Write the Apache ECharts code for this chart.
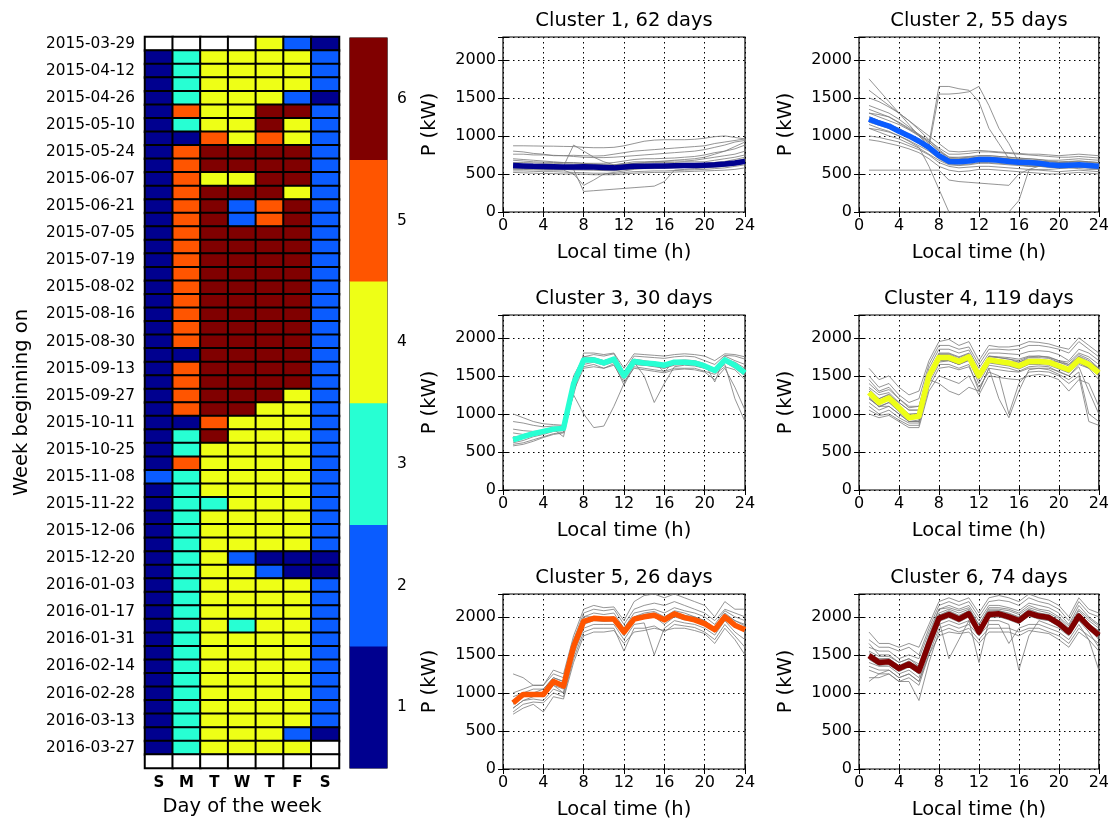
<!DOCTYPE html>
<html><head><meta charset="utf-8">
<script src="https://cdn.jsdelivr.net/npm/echarts/dist/echarts.min.js"></script>
<style>html,body{margin:0;padding:0;background:#fff}#c{width:1112px;height:822px}</style>
</head><body><div id="c"></div>
<script>
// ---------- categories ----------
const weeks = ['2015-03-29','2015-04-05','2015-04-12','2015-04-19','2015-04-26','2015-05-03','2015-05-10','2015-05-17','2015-05-24','2015-05-31',
'2015-06-07','2015-06-14','2015-06-21','2015-06-28','2015-07-05','2015-07-12','2015-07-19','2015-07-26','2015-08-02','2015-08-09',
'2015-08-16','2015-08-23','2015-08-30','2015-09-06','2015-09-13','2015-09-20','2015-09-27','2015-10-04','2015-10-11','2015-10-18',
'2015-10-25','2015-11-01','2015-11-08','2015-11-15','2015-11-22','2015-11-29','2015-12-06','2015-12-13','2015-12-20','2015-12-27',
'2016-01-03','2016-01-10','2016-01-17','2016-01-24','2016-01-31','2016-02-07','2016-02-14','2016-02-21','2016-02-28','2016-03-06',
'2016-03-13','2016-03-20','2016-03-27','2016-04-03'];
const days = ['Sun','Mon','Tue','Wed','Thu','Fri','Sat'];
const dayLabels = ['S','M','T','W','T','F','S'];
const clusterLevels = ['1','2','3','4','5','6'];
const clusterColors = ['#00008f','#0a5cff','#27ffd3','#eeff16','#ff5500','#800000'];
const hours = [1,2,3,4,5,6,7,8,9,10,11,12,13,14,15,16,17,18,19,20,21,22,23,24];
const panelTitles = ['Cluster 1, 62 days','Cluster 2, 55 days','Cluster 3, 30 days','Cluster 4, 119 days','Cluster 5, 26 days','Cluster 6, 74 days'];
const powerTicks = [0,500,1000,1500,2000];

// ---------- cluster of each day (rows = weeks, cols = S..S) ----------
const weekClusters = [
[null,null,null,null,4,2,1],
[1,3,4,4,4,4,2],[1,3,4,4,4,4,2],[1,3,4,4,4,4,2],[1,3,4,4,4,2,1],
[1,5,4,4,6,6,2],[1,3,4,4,6,4,2],[1,1,5,4,5,4,2],[1,5,6,6,6,6,2],[1,5,6,6,6,6,2],
[1,5,4,4,6,6,2],[1,5,6,6,6,4,2],[1,5,6,2,5,6,2],[1,5,6,2,5,6,2],[1,5,6,6,6,6,2],
[1,5,6,6,6,6,2],[1,5,6,6,6,6,2],[1,5,6,6,6,6,2],[1,5,6,6,6,6,2],[1,5,6,6,6,6,2],
[1,5,6,6,6,6,2],[1,5,6,6,6,6,2],[1,5,6,6,6,6,2],[1,1,6,6,6,6,2],[1,5,6,6,6,6,2],
[1,5,6,6,6,6,2],[1,5,6,6,6,4,2],[1,5,6,6,4,4,2],[1,1,5,4,4,4,2],[1,3,6,4,4,4,2],
[1,3,4,4,4,4,2],[1,5,4,4,4,4,2],[2,3,4,4,4,4,2],[1,3,4,4,4,4,2],[1,3,3,4,4,4,2],
[1,3,4,4,4,4,2],[1,3,4,4,4,4,2],[1,3,4,4,4,4,2],[1,3,4,2,1,1,1],[1,3,4,4,2,1,1],
[1,3,4,4,4,4,2],[1,3,4,4,4,4,2],[1,3,4,4,4,4,2],[1,3,4,3,4,4,2],[1,3,4,4,4,4,2],
[1,3,4,4,4,4,2],[1,3,4,4,4,4,2],[1,3,4,4,4,4,2],[1,3,4,4,4,4,2],[1,3,4,4,4,4,2],
[1,3,4,4,4,4,2],[1,3,4,4,4,2,1],[1,3,4,4,4,4,null],
[null,null,null,null,null,null,null]];

// ---------- cluster mean profiles (kW, hours 1..24) ----------
const mean1 = [610,605,600,598,595,592,590,595,590,585,580,590,600,602,605,605,608,610,612,615,620,630,645,665];
const mean2 = [1220,1170,1130,1060,1000,930,850,740,665,660,670,690,690,680,665,655,650,640,620,610,615,620,610,600];
const mean3 = [660,700,740,770,800,810,1400,1710,1710,1670,1720,1500,1690,1670,1660,1640,1680,1680,1670,1630,1570,1710,1640,1540];
const mean4 = [1280,1150,1210,1080,950,970,1500,1740,1740,1690,1750,1500,1710,1690,1670,1630,1690,1690,1680,1630,1580,1710,1650,1540];
const mean5 = [870,980,980,980,1150,1090,1610,1940,1980,1970,1970,1800,1970,2000,2020,1960,2040,1990,1960,1910,1830,2000,1890,1830];
const mean6 = [1490,1400,1410,1320,1380,1290,1650,1980,2030,1970,2040,1800,2030,2040,2000,1950,2050,2010,1990,1910,1800,2010,1870,1760];

// ---------- individual daily profiles (grey) ----------
const days1 = [
[870,870,868,866,865,862,860,850,845,845,850,870,900,930,945,950,950,950,955,970,990,1000,980,960],
[800,790,770,760,740,740,745,740,735,740,760,780,800,810,820,830,840,850,860,870,900,920,940,960],
[760,760,750,750,745,740,730,720,715,715,720,730,740,750,760,770,780,790,800,820,850,880,920,940],
[700,690,680,670,660,650,650,640,640,640,650,670,690,700,700,705,710,720,730,750,780,800,830,880],
[650,650,645,640,640,635,630,630,625,620,620,640,660,660,665,665,670,670,680,700,720,740,760,800],
[620,610,605,600,600,600,880,800,720,660,620,630,640,640,650,650,650,660,660,660,680,700,720,750],
[600,600,590,590,585,585,560,270,280,290,300,310,320,330,340,400,550,560,570,580,590,600,620,640],
[560,560,555,550,550,550,500,350,420,500,520,540,560,570,570,575,580,585,590,600,610,620,640,680],
[580,575,570,565,560,560,555,550,550,545,540,560,570,575,580,585,590,590,600,610,620,630,650,700],
[540,540,535,530,530,525,520,515,510,510,505,520,530,535,540,540,545,550,555,560,570,580,600,620],
[520,515,510,505,505,500,500,495,490,490,490,500,510,515,520,520,525,530,535,540,545,550,560,580],
[680,670,660,655,650,650,645,640,630,620,610,620,640,650,660,670,680,690,700,720,760,800,860,920],
[630,625,620,615,612,610,605,600,598,595,590,600,612,615,620,622,625,628,632,640,650,665,690,720],
[595,590,585,582,580,578,575,580,575,570,565,575,585,590,592,595,598,600,605,610,615,625,640,660],
[610,608,602,600,598,596,600,610,600,595,590,600,610,612,615,618,620,622,625,630,640,650,670,700],
[570,568,565,560,560,558,555,560,555,550,548,558,570,575,580,582,585,588,590,595,600,610,625,640]];
const days2 = [
[1750,1600,1450,1300,1150,1000,870,760,700,700,710,720,720,710,700,690,680,670,660,650,660,670,660,650],
[1500,1450,1380,1300,1200,1080,950,820,720,720,730,740,740,730,720,710,700,690,680,680,690,700,690,680],
[1400,1350,1300,1220,1120,1020,920,800,700,690,700,720,720,710,700,690,680,670,660,650,650,660,650,640],
[1300,1250,1200,1150,1080,1000,900,1650,1650,1620,1600,1450,1100,900,700,620,600,600,600,590,600,600,590,580],
[1250,1200,1150,1100,1020,950,850,1550,1550,1560,1580,1650,1400,1100,900,650,620,610,600,600,610,620,610,600],
[1200,1150,1100,1050,980,900,820,720,660,650,660,680,680,670,650,640,640,630,610,600,600,610,600,590],
[1100,1050,1000,960,900,840,760,680,620,610,620,640,640,630,620,610,600,600,590,580,580,590,580,570],
[1000,980,950,920,870,820,750,650,600,580,590,600,600,590,580,570,560,550,540,530,540,550,540,530],
[950,930,900,870,830,780,700,600,550,530,540,560,560,550,540,530,520,510,500,500,510,520,510,500],
[550,550,550,550,550,550,550,550,420,400,390,380,370,360,350,500,560,600,620,630,640,640,630,620],
[1100,1080,1050,1000,930,850,600,300,0,0,0,0,0,0,0,150,550,560,560,570,580,570,560,560],
[1300,1280,1250,1180,1100,1020,940,840,760,760,770,790,790,780,770,760,750,740,730,720,720,730,720,710],
[1600,1500,1400,1300,1200,1100,1000,900,800,790,800,810,800,790,780,770,760,760,750,740,750,760,750,740],
[1250,1200,1150,1080,1020,950,870,760,690,680,690,710,710,700,690,680,670,660,640,630,635,640,630,620],
[1180,1140,1100,1040,980,910,830,720,650,640,650,670,670,660,645,635,630,620,605,595,600,605,595,585],
[1350,1300,1250,1170,1090,1010,920,800,720,710,720,740,740,730,720,705,700,690,670,660,665,670,660,650],
[1150,1100,1060,1000,940,870,800,700,630,620,630,650,650,640,630,620,610,600,590,580,585,590,580,570]];
const days3 = [
[1000,950,900,870,860,850,1300,1800,1800,1780,1800,1600,1790,1780,1770,1760,1780,1790,1780,1760,1700,1790,1780,1750],
[900,880,850,830,840,840,1250,1750,1780,1760,1790,1550,1760,1750,1740,1730,1750,1760,1750,1700,1650,1770,1760,1720],
[750,730,760,780,800,820,1350,1700,1720,1700,1730,1500,1700,1690,1680,1660,1700,1700,1690,1650,1600,1720,1680,1600],
[650,680,720,750,780,800,1250,1000,820,840,1100,1400,1650,1640,1630,1600,1650,1660,1650,1620,1560,1700,1650,1550],
[620,650,700,730,770,780,1400,1680,1700,1650,1700,1480,1680,1500,1150,1400,1620,1640,1630,1600,1550,1680,1600,1500],
[600,620,660,700,740,760,1450,1650,1680,1640,1680,1450,1650,1640,1620,1600,1640,1650,1640,1600,1540,1650,1200,900],
[580,600,640,690,730,750,1380,1620,1650,1600,1660,1380,1620,1600,1580,1560,1600,1600,1600,1560,1520,1620,1580,1450],
[700,700,730,760,790,800,1420,1720,1730,1690,1720,1520,1690,1680,1660,1630,1680,1690,1680,1640,1580,1700,1650,1580],
[800,780,770,780,800,820,1500,1750,1740,1700,1740,1520,1720,1700,1680,1550,1700,1710,1700,1660,1420,1760,1700,1650],
[680,690,720,760,800,700,1300,1600,1620,1600,1640,1420,1600,1580,1560,1540,1580,1590,1580,1550,1450,1600,1350,1050],
[680,710,750,780,810,820,1420,1730,1730,1690,1740,1520,1710,1690,1680,1660,1700,1700,1690,1650,1590,1730,1660,1560],
[640,690,730,760,790,800,1380,1690,1690,1650,1700,1480,1670,1650,1640,1620,1660,1660,1650,1610,1550,1690,1620,1520]];
const days4 = [
[1600,1450,1500,1350,1250,1300,1700,1950,1980,1900,1950,1700,1900,1880,1880,1900,1950,1940,1920,1880,1850,2000,1900,1800],
[1500,1350,1400,1250,1150,1200,1650,1900,1900,1850,1880,1650,1850,1850,1840,1850,1900,1900,1880,1850,1800,1950,1850,1750],
[1400,1280,1320,1200,1100,1100,1600,1850,1850,1800,1840,1600,1800,1800,1790,1780,1820,1830,1820,1780,1700,1850,1800,1700],
[1300,1200,1250,1150,1050,1050,1550,1800,1800,1750,1800,1550,1760,1750,1740,1720,1760,1760,1750,1700,1650,1780,1720,1600],
[1250,1150,1200,1100,1000,1000,1500,1760,1760,1710,1760,1500,1720,1700,1680,1650,1700,1700,1700,1650,1600,1720,1650,1500],
[1200,1100,1150,1050,950,950,1480,1720,1720,1680,1720,1450,1680,1660,1640,1600,1660,1670,1660,1600,1550,1680,1600,1450],
[1150,1050,1100,1000,900,900,1450,1680,1700,1650,1700,1400,1640,1620,1600,1560,1620,1630,1620,1550,1500,1620,1300,1000],
[1100,1000,1050,950,880,880,1400,1650,1650,1600,1650,1300,1600,1200,950,1300,1580,1600,1580,1520,1450,1550,1000,900],
[1050,980,1000,920,850,850,1350,1600,1620,1580,1620,1350,1550,1500,1000,1400,1550,1560,1550,1500,1400,1500,900,850],
[1000,950,980,900,820,820,1300,1500,1450,1400,1500,1250,1500,1480,1460,1450,1500,1520,1500,1450,1300,1450,1400,1100],
[1350,1250,1280,1150,1050,1050,1500,1700,1700,1650,1720,1500,1700,1700,1690,1680,1720,1720,1700,1680,1650,1750,1680,1600],
[1450,1300,1350,1200,1080,1100,1550,1780,1780,1720,1780,1550,1750,1740,1720,1700,1750,1760,1740,1700,1680,1800,1750,1650],
[1200,1100,1100,1000,900,900,1450,1400,1300,1250,1350,1300,1600,1580,1560,1550,1600,1600,1600,1560,1500,1650,1600,1550],
[1300,1170,1230,1100,970,990,1520,1760,1760,1710,1770,1520,1730,1710,1690,1650,1710,1710,1700,1650,1600,1730,1670,1560],
[1260,1130,1190,1060,930,950,1480,1720,1720,1670,1730,1480,1690,1670,1650,1610,1670,1670,1660,1610,1560,1690,1630,1520],
[1330,1200,1260,1120,990,1010,1540,1790,1790,1740,1790,1540,1760,1740,1720,1680,1740,1740,1730,1680,1630,1760,1700,1590],
[1220,1090,1150,1030,900,920,1450,1700,1700,1650,1710,1460,1670,1650,1630,1590,1650,1650,1640,1590,1540,1670,1610,1500]];
const days5 = [
[1250,1200,1100,1100,1300,1250,1750,2100,2150,2120,2130,1950,2200,2280,2300,2250,2300,2250,2200,2150,2000,2200,2100,2100],
[1000,1050,1100,1100,1250,1200,1700,2050,2100,2080,2100,1900,2100,2150,2180,2150,2200,2150,2100,2050,1950,2100,2050,2000],
[950,1000,1050,1050,1200,1150,1650,2000,2050,2030,2050,1850,2050,2080,2100,2050,2120,2080,2050,2000,1900,2080,2000,1950],
[900,980,1000,1000,1150,1100,1600,1950,2000,1980,2000,1800,2000,2030,2050,1980,2060,2020,2000,1950,1850,2030,1950,1900],
[850,950,960,950,1100,1050,1550,1900,1950,1940,1950,1750,1950,1980,2000,1900,2000,1960,1940,1900,1800,1980,1880,1800],
[800,900,920,900,1050,1000,1500,1850,1900,1900,1900,1700,1900,1920,1500,1850,1950,1920,1900,1850,1760,1950,1800,1700],
[750,850,880,870,1000,950,1450,1800,1850,1850,1850,1550,1850,1850,1880,1800,1900,1880,1860,1800,1700,1900,1750,1600],
[720,800,850,750,950,920,1400,1750,1800,1800,1820,1650,1800,1820,1850,1820,1850,1850,1820,1780,1650,1850,1700,1500],
[800,900,950,1000,1100,1000,1550,1950,2000,1980,2000,1850,2000,2050,2070,2000,2080,2050,2000,1950,1850,2050,1950,1880],
[900,950,1000,1050,1200,1150,1650,2000,2000,1950,1980,1800,1980,2000,2020,1950,2050,2000,1980,1920,1800,2000,1900,1850],
[880,990,990,990,1160,1100,1620,1960,2000,1990,1990,1820,1990,2020,2040,1980,2060,2010,1980,1930,1850,2020,1910,1850],
[860,960,970,970,1130,1080,1590,1920,1960,1950,1950,1780,1950,1980,2000,1940,2020,1970,1940,1890,1810,1980,1870,1810]];
const days6 = [
[1800,1650,1650,1600,1650,1600,1900,2200,2250,2200,2250,2050,2250,2280,2250,2200,2300,2250,2220,2150,2000,2250,2100,2050],
[1700,1600,1600,1550,1600,1500,1850,2150,2200,2150,2200,2000,2200,2220,2200,2150,2250,2200,2170,2100,1950,2200,2050,2000],
[1600,1550,1550,1450,1500,1450,1800,2100,2150,2100,2150,1950,2150,2150,2120,2080,2180,2150,2120,2050,1900,2150,2000,1900],
[1550,1480,1480,1400,1450,1380,1750,2050,2100,2050,2100,1900,2100,2100,2080,2030,2120,2080,2050,1980,1850,2080,1950,1850],
[1450,1380,1400,1300,1350,1250,1650,2000,2050,2000,2050,1850,2050,2050,2020,1980,2070,2030,2000,1930,1820,2030,1900,1800],
[1400,1350,1350,1250,1300,1200,1600,1950,1450,1700,1950,1800,2000,2000,1980,1930,2020,1980,1950,1880,1780,1980,1850,1700],
[1350,1300,1300,1200,1250,1150,1550,1900,1950,1900,1950,1400,1950,1950,1900,1300,1750,1950,1900,1850,1750,1950,1800,1600],
[1300,1250,1250,1150,1200,1100,1500,1850,1900,1850,1900,1750,1900,1900,1650,1850,1900,1900,1850,1800,1700,1900,1700,1300],
[1200,1200,1250,1150,1150,900,1400,1800,1850,1800,1850,1700,1850,1850,1850,1800,1850,1850,1800,1750,1650,1850,1750,1650],
[1150,1250,1300,1200,1250,1150,1500,1750,1800,1780,1800,1650,1800,1800,1800,1750,1820,1800,1780,1700,1600,1800,1700,1550],
[1500,1450,1450,1350,1400,1350,1700,2020,2080,2020,2080,1850,2080,2080,2050,2000,2100,2050,2020,1950,1820,2050,1900,1820],
[1650,1500,1500,1400,1450,1350,1750,2100,2120,2080,2120,1900,2120,2120,2100,2050,2150,2100,2080,2000,1880,2100,1980,1880],
[1500,1410,1420,1330,1390,1300,1660,2000,2050,1990,2060,1820,2050,2060,2020,1970,2070,2030,2010,1930,1820,2030,1890,1780],
[1470,1390,1400,1310,1370,1280,1640,1960,2010,1950,2020,1780,2010,2020,1980,1930,2030,1990,1970,1890,1780,1990,1850,1740],
[1530,1440,1450,1360,1420,1330,1690,2020,2070,2010,2080,1840,2070,2080,2040,1990,2090,2050,2030,1950,1840,2050,1910,1800],
[1440,1360,1370,1280,1340,1250,1610,1940,1990,1930,2000,1760,1990,2000,1960,1910,2010,1970,1950,1870,1760,1970,1830,1720]];

const means = [mean1,mean2,mean3,mean4,mean5,mean6];
const dailySets = [days1,days2,days3,days4,days5,days6];

// ---------- build chart ----------
const FF = 'DejaVu Sans';
const grids = [], xAxes = [], yAxes = [], series = [];

// heatmap grid
grids.push({left:145, top:37, width:194, height:731, show:true, borderColor:'#000', borderWidth:2, backgroundColor:'#fff'});
xAxes.push({type:'category', gridIndex:0, data:days, position:'bottom', z:10,
  name:'Day of the week', nameLocation:'middle', nameGap:29, nameTextStyle:{fontFamily:FF, fontSize:19.5, color:'#000'},
  axisLine:{show:false}, axisTick:{inside:true, alignWithLabel:true, length:5, lineStyle:{color:'#000'}},
  axisLabel:{fontFamily:FF, fontSize:15, fontWeight:'bold', color:'#000', margin:8, formatter:(v,i)=>dayLabels[i]},
  splitLine:{show:false}});
xAxes.push({type:'category', gridIndex:0, data:days, position:'top', z:10,
  axisLine:{show:false}, axisTick:{inside:true, alignWithLabel:true, length:5, lineStyle:{color:'#000'}},
  axisLabel:{show:false}, splitLine:{show:false}});
yAxes.push({type:'category', gridIndex:0, data:weeks, inverse:true, position:'left', z:10,
  name:'Week beginning on', nameLocation:'middle', nameGap:113, nameRotate:90, nameTextStyle:{fontFamily:FF, fontSize:19.5, color:'#000'},
  axisLine:{show:false}, axisTick:{inside:true, alignWithLabel:true, interval:0, length:5, lineStyle:{color:'#000'}},
  axisLabel:{interval:1, fontFamily:FF, fontSize:15.3, color:'#000', margin:10}, splitLine:{show:false}});
yAxes.push({type:'category', gridIndex:0, data:weeks, inverse:true, position:'right', z:10,
  axisLine:{show:false}, axisTick:{inside:true, alignWithLabel:true, interval:0, length:5, lineStyle:{color:'#000'}},
  axisLabel:{show:false}, splitLine:{show:false}});

// colorbar grid
grids.push({left:350, top:38, width:37, height:730, show:true, borderColor:'#000', borderWidth:1.2});
xAxes.push({type:'category', gridIndex:1, data:['c'], show:false});
yAxes.push({type:'category', gridIndex:1, data:clusterLevels, position:'right', z:10,
  axisLine:{show:false}, axisTick:{inside:true, alignWithLabel:true, length:8, lineStyle:{color:'#000'}},
  axisLabel:{fontFamily:FF, fontSize:15.5, color:'#000', margin:10}, splitLine:{show:false}});

// heatmap data
const heatData = [];
weekClusters.forEach((row, w) => row.forEach((v, d) => heatData.push([d, w, v === null ? 0 : v])));
series.push({type:'heatmap', xAxisIndex:0, yAxisIndex:0, data:heatData,
  itemStyle:{borderColor:'#000', borderWidth:2}, emphasis:{disabled:true}, animation:false});
series.push({type:'heatmap', xAxisIndex:2, yAxisIndex:2, data:clusterLevels.map((c, i) => [0, i, +c]),
  itemStyle:{borderWidth:0}, emphasis:{disabled:true}, animation:false});

// panels
const panelPos = [[503,37],[859,37],[503,315],[859,315],[503,594],[859,594]];
panelPos.forEach((p, k) => {
  const gi = grids.length;
  grids.push({left:p[0], top:p[1], width:242, height:175, show:true, borderColor:'#000', borderWidth:1.2});
  const xi = xAxes.length, yi = yAxes.length;
  const tick = {inside:true, length:5, lineStyle:{color:'#000'}};
  xAxes.push({type:'value', gridIndex:gi, min:0, max:24, interval:4, position:'bottom',
    name:'Local time (h)', nameLocation:'middle', nameGap:31, nameTextStyle:{fontFamily:FF, fontSize:19.5, color:'#000'},
    axisLine:{show:false}, axisTick:tick, axisLabel:{fontFamily:FF, fontSize:16, color:'#000', margin:6},
    splitLine:{show:true, lineStyle:{color:'#000', width:1, type:[1.5,3.5]}}});
  xAxes.push({type:'value', gridIndex:gi, min:0, max:24, interval:4, position:'top',
    name:panelTitles[k], nameLocation:'middle', nameGap:6, nameTextStyle:{fontFamily:FF, fontSize:19.5, color:'#000'},
    axisLine:{show:false}, axisTick:tick, axisLabel:{show:false}, splitLine:{show:false}});
  yAxes.push({type:'value', gridIndex:gi, min:0, max:2300, interval:500, position:'left',
    name:'P (kW)', nameLocation:'middle', nameGap:63, nameRotate:90, nameTextStyle:{fontFamily:FF, fontSize:19.5, color:'#000'},
    axisLine:{show:false}, axisTick:tick,
    axisLabel:{fontFamily:FF, fontSize:16, color:'#000', margin:7, formatter:v => powerTicks.includes(v) ? String(v) : ''},
    splitLine:{show:true, lineStyle:{color:'#000', width:1, type:[1.5,3.5]}}});
  yAxes.push({type:'value', gridIndex:gi, min:0, max:2300, interval:500, position:'right',
    axisLine:{show:false}, axisTick:tick, axisLabel:{show:false}, splitLine:{show:false}});
  dailySets[k].forEach(arr => {
    series.push({type:'line', xAxisIndex:xi, yAxisIndex:yi, data:hours.map((h, i) => [h, arr[i]]),
      showSymbol:false, silent:true, animation:false, z:2,
      lineStyle:{color:'#7a7a7a', width:1, opacity:0.8}});
  });
  series.push({type:'line', xAxisIndex:xi, yAxisIndex:yi, data:hours.map((h, i) => [h, means[k][i]]),
    showSymbol:false, silent:true, animation:false, z:3,
    lineStyle:{color:clusterColors[k], width:5.5, join:'round'}});
});

const chart = echarts.init(document.getElementById('c'), null, {renderer:'canvas'});
chart.setOption({
  backgroundColor:'#fff',
  animation:false,
  textStyle:{fontFamily:FF},
  grid:grids, xAxis:xAxes, yAxis:yAxes,
  visualMap:{type:'piecewise', show:false, dimension:2, seriesIndex:[0,1],
    pieces:[{value:0, color:'#ffffff'}].concat(clusterColors.map((c, i) => ({value:i + 1, color:c})))},
  series:series
});
</script>
</body></html>
